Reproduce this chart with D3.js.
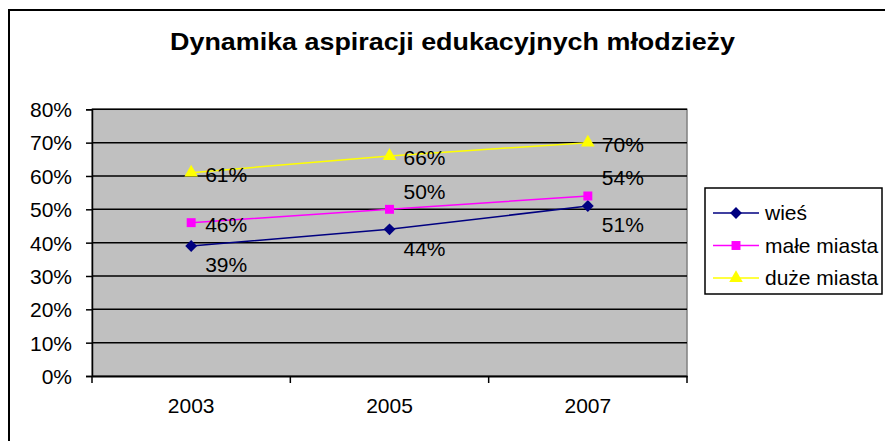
<!DOCTYPE html>
<meta charset="utf-8">
<style>
body { margin: 0; background: #fff; }
svg text { font-family: "Liberation Sans", Arial, sans-serif; fill: #000; }
</style>
<div id="chart"></div>
<script src="https://d3js.org/d3.v7.min.js"></script>
<script>
  var years = ["2003", "2005", "2007"];
  var seriesNames = ["wieś", "małe miasta", "duże miasta"];
  var wies = [0.39, 0.44, 0.51];
  var maleMiasta = [0.46, 0.50, 0.54];
  var duzeMiasta = [0.61, 0.66, 0.70];
  var yTicks = [0, 0.1, 0.2, 0.3, 0.4, 0.5, 0.6, 0.7, 0.8];

  // where Excel put each data label
  var labelPlace = [
    ["below", "below", "below"],
    ["right", "above", "above"],
    ["right", "right", "right"]
  ];

  var width = 885, height = 441;
  var plot = { left: 92, right: 687, top: 109.3, bottom: 376 };

  var svg = d3.select("#chart").append("svg")
    .attr("width", width)
    .attr("height", height);

  // outer chart border (runs off right and bottom in the original)
  svg.append("rect")
    .attr("x", 9).attr("y", 10)
    .attr("width", 900).attr("height", 460)
    .attr("fill", "#fff")
    .attr("stroke", "#000")
    .attr("stroke-width", 2);

  svg.append("text")
    .attr("x", 170).attr("y", 50)
    .attr("textLength", 565)
    .attr("lengthAdjust", "spacingAndGlyphs")
    .style("font-size", "24px")
    .style("font-weight", "bold")
    .text("Dynamika aspiracji edukacyjnych młodzieży");

  var x = d3.scaleBand().domain(years).range([plot.left, plot.right]);
  var y = d3.scaleLinear().domain([0, 0.8]).range([plot.bottom, plot.top]);

  svg.append("rect")
    .attr("x", plot.left).attr("y", plot.top)
    .attr("width", plot.right - plot.left)
    .attr("height", plot.bottom - plot.top)
    .attr("fill", "#c0c0c0")
    .attr("stroke", "#808080")
    .attr("stroke-width", 1.5);

  svg.append("g").selectAll("line")
    .data(yTicks.slice(1))
    .enter().append("line")
    .attr("x1", plot.left).attr("x2", plot.right)
    .attr("y1", function(d) { return y(d); })
    .attr("y2", function(d) { return y(d); })
    .attr("stroke", "#000")
    .attr("stroke-width", 1.5);

  var yAxis = svg.append("g")
    .attr("transform", "translate(" + plot.left + ",0)")
    .call(d3.axisLeft(y).tickValues(yTicks).tickFormat(d3.format(".0%")).tickSize(6).tickPadding(14));
  yAxis.select(".domain").attr("stroke-width", 1.5);
  yAxis.selectAll(".tick line").attr("stroke-width", 1.5);
  yAxis.selectAll("text").style("font-size", "21px").attr("dy", "0.35em");

  var xAxis = svg.append("g")
    .attr("transform", "translate(0," + plot.bottom + ")")
    .call(d3.axisBottom(x).tickSize(0).tickPadding(22));
  xAxis.select(".domain").attr("stroke-width", 2);
  xAxis.selectAll("text").style("font-size", "21px");
  // tick marks sit between categories
  xAxis.selectAll(".between")
    .data(x.domain().map(function(d) { return x(d); }).concat([plot.right]))
    .enter().append("line")
    .attr("x1", function(d) { return d; }).attr("x2", function(d) { return d; })
    .attr("y1", 0).attr("y2", 7)
    .attr("stroke", "#000")
    .attr("stroke-width", 1.5);

  // Excel style diamond: a square turned 45 degrees
  var diamond = {
    draw: function(ctx, size) {
      var r = Math.sqrt(size / 2);
      ctx.moveTo(0, -r); ctx.lineTo(r, 0); ctx.lineTo(0, r); ctx.lineTo(-r, 0); ctx.closePath();
    }
  };

  var series = [
    { name: seriesNames[0], values: wies, color: "#000080", shape: diamond, size: 70 },
    { name: seriesNames[1], values: maleMiasta, color: "#ff00ff", shape: d3.symbolSquare, size: 80 },
    { name: seriesNames[2], values: duzeMiasta, color: "#ffff00", shape: d3.symbolTriangle, size: 80 }
  ];

  function cx(i) { return x(years[i]) + x.bandwidth() / 2; }

  var line = d3.line()
    .x(function(d, i) { return cx(i); })
    .y(function(d) { return y(d); });

  series.forEach(function(s) {
    svg.append("path")
      .attr("d", line(s.values))
      .attr("fill", "none")
      .attr("stroke", s.color)
      .attr("stroke-width", 1.5);

    svg.append("g").selectAll("path")
      .data(s.values)
      .enter().append("path")
      .attr("transform", function(d, i) { return "translate(" + cx(i) + "," + y(d) + ")"; })
      .attr("d", d3.symbol().type(s.shape).size(s.size))
      .attr("fill", s.color);
  });

  series.forEach(function(s, si) {
    svg.append("g").selectAll("text")
      .data(s.values)
      .enter().append("text")
      .attr("x", function(d, i) { return cx(i) + 14; })
      .attr("y", function(d, i) {
        var p = labelPlace[si][i];
        var off = p === "above" ? -18 : p === "below" ? 19 : 2;
        return y(d) + off;
      })
      .attr("dy", "0.35em")
      .style("font-size", "21px")
      .text(function(d) { return d3.format(".0%")(d); });
  });

  // legend
  var legend = svg.append("g").attr("transform", "translate(705,188)");
  legend.append("rect")
    .attr("width", 177).attr("height", 106)
    .attr("fill", "#fff")
    .attr("stroke", "#000")
    .attr("stroke-width", 1.5);

  var item = legend.selectAll(".item")
    .data(series)
    .enter().append("g")
    .attr("transform", function(d, i) { return "translate(0," + (25 + i * 32.5) + ")"; });
  item.append("line")
    .attr("x1", 8).attr("x2", 54)
    .attr("stroke", function(d) { return d.color; })
    .attr("stroke-width", 1.5);
  item.append("path")
    .attr("transform", "translate(31,0)")
    .attr("d", function(d) { return d3.symbol().type(d.shape).size(d.size)(); })
    .attr("fill", function(d) { return d.color; });
  item.append("text")
    .attr("x", 60).attr("dy", "0.35em")
    .style("font-size", "21px")
    .text(function(d) { return d.name; });
</script>
